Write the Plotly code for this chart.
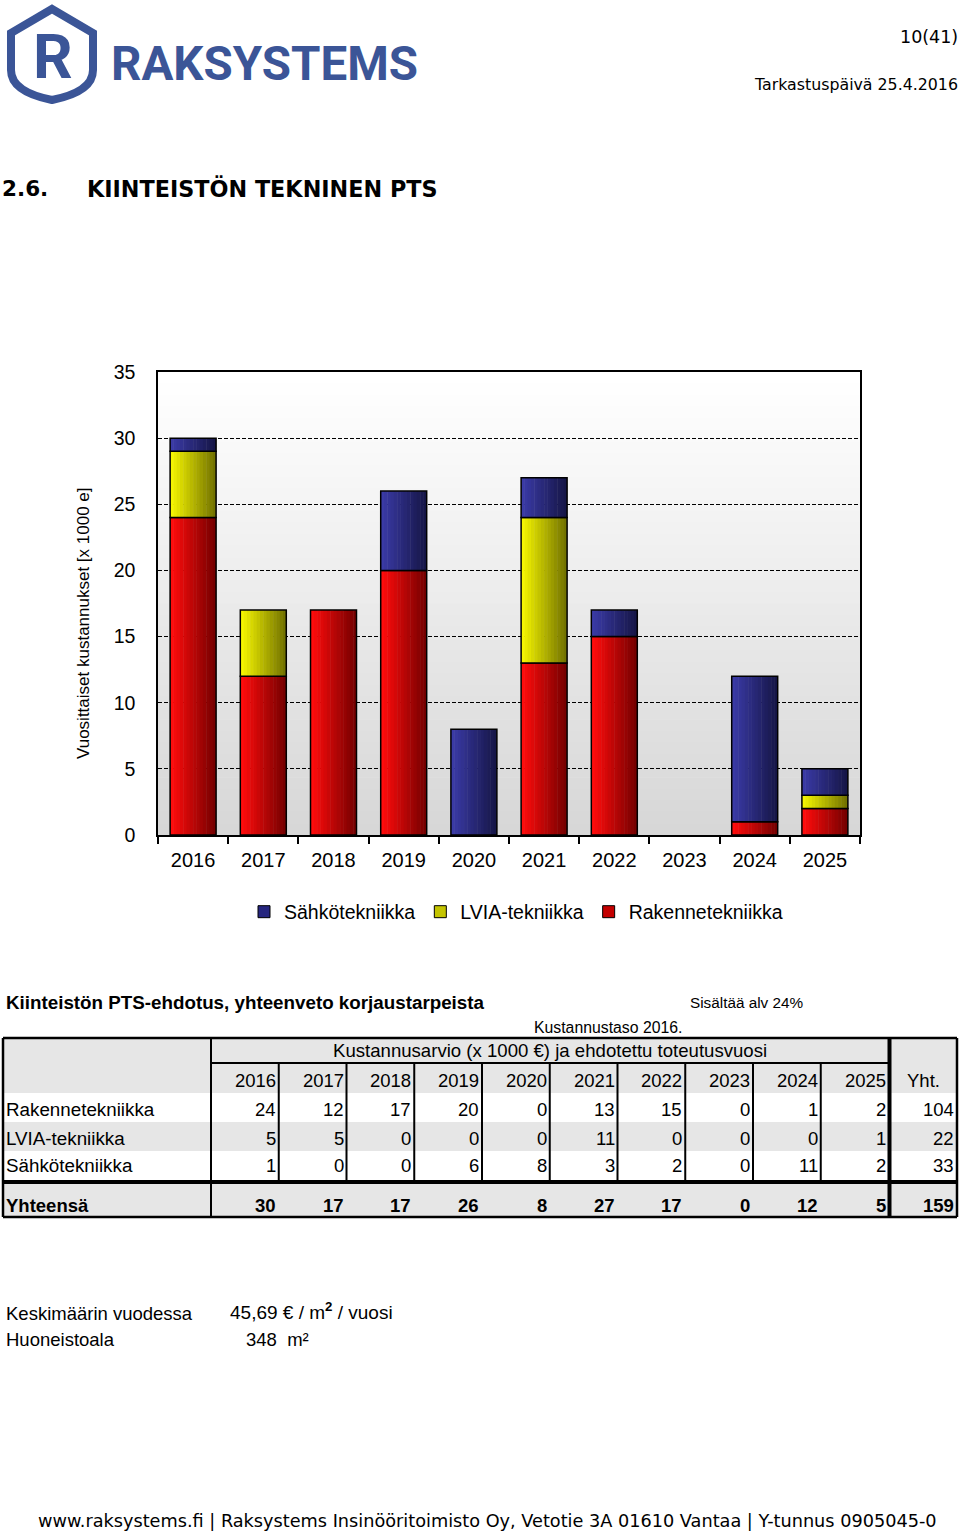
import plotly.graph_objects as go

# ---------------- data ----------------
years = ["2016", "2017", "2018", "2019", "2020", "2021", "2022", "2023", "2024", "2025"]
rakenne = [24, 12, 17, 20, 0, 13, 15, 0, 1, 2]
lvia = [5, 5, 0, 0, 0, 11, 0, 0, 0, 1]
sahko = [1, 0, 0, 6, 8, 3, 2, 0, 11, 2]
row_labels = ["Rakennetekniikka", "LVIA-tekniikka", "Sähkötekniikka"]
legend_names = ["Sähkötekniikka", "LVIA-tekniikka", "Rakennetekniikka"]
y_ticks = [0, 5, 10, 15, 20, 25, 30, 35]

W, H = 960, 1532
ARIAL = "Arial, Liberation Sans, sans-serif"
TAHOMA = "DejaVu Sans, Verdana, sans-serif"
BLUE_LOGO = "#3B5597"


def px(x):
    return x / W


def py(y):
    return 1 - y / H


fig = go.Figure()


def ann(text, x, y, size, xanchor="left", yanchor="middle", family=ARIAL,
        bold=False, color="black", textangle=0):
    fig.add_annotation(text=text, x=px(x), y=py(y), xref="paper", yref="paper",
                       xanchor=xanchor, yanchor=yanchor, showarrow=False,
                       textangle=textangle, borderpad=0,
                       font=dict(size=size, family=family, color=color,
                                 weight="bold" if bold else "normal"))


def rect(x0, y0, x1, y1, fill="rgba(0,0,0,0)", lw=0, lc="black", layer="below"):
    fig.add_shape(type="rect", xref="paper", yref="paper",
                  x0=px(x0), x1=px(x1), y0=py(y0), y1=py(y1),
                  fillcolor=fill, line=dict(width=lw, color=lc), layer=layer)


def hline(x0, x1, y, w=2):
    fig.add_shape(type="line", xref="paper", yref="paper",
                  x0=px(x0), x1=px(x1), y0=py(y), y1=py(y),
                  line=dict(width=w, color="black"), layer="above")


def vline(x, y0, y1, w=2):
    fig.add_shape(type="line", xref="paper", yref="paper",
                  x0=px(x), x1=px(x), y0=py(y0), y1=py(y1),
                  line=dict(width=w, color="black"), layer="above")


def lerp(c1, c2, t):
    return "#%02x%02x%02x" % tuple(round(a + (b - a) * t) for a, b in zip(c1, c2))


# ---------------- plot background gradient ----------------
PX0, PX1, PY0, PY1 = 158, 860, 372, 835
NS = 40
for i in range(NS):
    t = i / (NS - 1)
    ya = PY0 + (PY1 - PY0) * i / NS
    yb = PY0 + (PY1 - PY0) * (i + 1) / NS + 0.6
    g = round(255 - 40 * t)
    rect(PX0, ya, PX1, yb, fill="rgb(%d,%d,%d)" % (g, g, g))

# ---------------- bars ----------------
series = [
    (rakenne, ((255, 12, 12), (118, 0, 0))),
    (lvia, ((245, 245, 0), (115, 115, 0))),
    (sahko, ((58, 58, 165), (22, 22, 72))),
]
BW = 0.655
NSL = 14
base = [0] * len(years)
for vals, (c1, c2) in series:
    for k in range(NSL):
        t = k / (NSL - 1)
        wk = BW / NSL
        fig.add_bar(x=years, y=vals, base=list(base),
                    width=wk * (1.15 if k < NSL - 1 else 1.0),
                    offset=-BW / 2 + k * wk,
                    marker=dict(color=lerp(c1, c2, t), line=dict(width=0)),
                    showlegend=False, hoverinfo="skip")
    fig.add_bar(x=years, y=[v if v else None for v in vals], base=list(base),
                width=BW, offset=-BW / 2,
                marker=dict(color="rgba(0,0,0,0)", line=dict(color="black", width=1.5)),
                showlegend=False, hoverinfo="skip")
    base = [b + v for b, v in zip(base, vals)]

legend_colors = {"Sähkötekniikka": "#26267F", "LVIA-tekniikka": "#C4C400",
                 "Rakennetekniikka": "#C40000"}
for nm in legend_names:
    fig.add_bar(x=[None], y=[None], name=nm,
                marker=dict(color=legend_colors[nm], line=dict(color="black", width=1)))

fig.update_layout(
    width=W, height=H, autosize=False,
    margin=dict(l=0, r=0, t=0, b=0, pad=0, autoexpand=False),
    paper_bgcolor="white", plot_bgcolor="rgba(0,0,0,0)",
    barmode="overlay",
    showlegend=True,
    legend=dict(orientation="h", x=px(516), y=py(912), xanchor="center", yanchor="middle",
                font=dict(size=19.5, family=ARIAL, color="black"),
                bgcolor="rgba(0,0,0,0)", traceorder="normal", itemwidth=30),
    xaxis=dict(domain=[px(PX0), px(PX1)], type="category", automargin=False,
               showline=True, linecolor="black", linewidth=1.5, mirror=True,
               ticks="outside", tickson="boundaries", ticklen=7, tickcolor="black",
               tickwidth=1.5, showgrid=False,
               tickfont=dict(size=20, family=ARIAL, color="black"),
               ticklabelstandoff=6),
    yaxis=dict(domain=[py(PY1), py(PY0)], range=[0, 35], tickvals=y_ticks, automargin=False,
               showline=True, linecolor="black", linewidth=1.5, mirror=True,
               ticks="", showgrid=True, gridcolor="black", gridwidth=1,
               griddash="4px,2px", zeroline=False,
               tickfont=dict(size=19.5, family=ARIAL, color="black"),
               ticklabelstandoff=17),
)

ann("Vuosittaiset kustannukset [x 1000 e]", 83, 623, 17, xanchor="center",
    textangle=-90)

# ---------------- header ----------------
fig.add_shape(type="path", xref="paper", yref="paper",
              path="M %f,%f L %f,%f L %f,%f C %f,%f %f,%f %f,%f C %f,%f %f,%f %f,%f L %f,%f Z" % (
                  px(52), py(9), px(93), py(33), px(93), py(70),
                  px(93), py(88), px(72), py(96), px(52), py(100),
                  px(32), py(96), px(11), py(88), px(11), py(70),
                  px(11), py(33)),
              line=dict(color=BLUE_LOGO, width=8), fillcolor="rgba(0,0,0,0)", layer="above")
ann("R", 53, 57, 62, xanchor="center", family="Roboto, sans-serif", bold=True,
    color=BLUE_LOGO)
ann("RAKSYSTEMS", 110, 64, 47.5, family="Roboto, sans-serif", bold=True, color=BLUE_LOGO)
ann("10(41)", 959, 37, 17.5, xanchor="right", family=TAHOMA)
ann("Tarkastuspäivä 25.4.2016", 959, 84, 15.8, xanchor="right", family=TAHOMA)
ann("2.6.", 1, 188, 21.5, family=TAHOMA, bold=True)
ann("KIINTEISTÖN TEKNINEN PTS", 86, 188, 22.3, family=TAHOMA, bold=True)

# ---------------- table ----------------
ann("Kiinteistön PTS-ehdotus, yhteenveto korjaustarpeista", 5, 1002, 18.8, bold=True)
ann("Sisältää alv 24%", 689, 1002, 15.3)
ann("Kustannustaso 2016.", 533, 1027, 15.8)

TL, TR = 3, 957
LC = 211
YC = 888.5
col_w = (YC - LC) / len(years)
T0, H1, H2 = 1038, 1063, 1093
row_b = [1122, 1151, 1180]
THK = 1182
TB = 1217
GRAY = "#E6E6E6"

rect(TL, T0, TR, H2, fill=GRAY)
rect(TL, row_b[0], TR, row_b[1], fill=GRAY)
rect(TL, THK, TR, TB, fill=GRAY)

hline(TL, TR, T0, 2.5)
hline(TL, TR, TB, 2.5)
vline(TL, T0, TB, 2.5)
vline(TR, T0, TB, 2.5)
vline(LC, T0, TB, 2)
vline(YC + 1, T0, TB, 4)
hline(LC, YC, H1, 2)
hline(TL, TR, THK, 4)
for i in range(1, len(years)):
    vline(LC + i * col_w, H1, row_b[-1], 2)

ann("Kustannusarvio (x 1000 €) ja ehdotettu toteutusvuosi", (LC + YC) / 2, 1050, 18.6,
    xanchor="center")
for i, yr in enumerate(years):
    ann(yr, LC + (i + 1) * col_w - 2, 1080, 18.5, xanchor="right")
ann("Yht.", 923, 1080, 18.5, xanchor="center")

rows = [rakenne, lvia, sahko]
row_cy = [1109, 1138, 1165]
for lab, vals, cy in zip(row_labels, rows, row_cy):
    ann(lab, 5, cy, 18.8)
    for i, v in enumerate(vals):
        ann(str(v), LC + (i + 1) * col_w - 2, cy, 18.5, xanchor="right")
    ann(str(sum(vals)), 955, cy, 18.5, xanchor="right")

totals = [a + b + c for a, b, c in zip(rakenne, lvia, sahko)]
ann("Yhteensä", 5, 1205, 18.5, bold=True)
for i, v in enumerate(totals):
    ann(str(v), LC + (i + 1) * col_w - 2, 1205, 18.5, xanchor="right", bold=True)
ann(str(sum(totals)), 955, 1205, 18.5, xanchor="right", bold=True)

# ---------------- notes ----------------
ann("Keskimäärin vuodessa", 5, 1313, 18.5)
ann("45,69 € / m<sup><b>2</b></sup> / vuosi", 229, 1311, 19)
ann("Huoneistoala", 5, 1339, 18.5)
ann("348  m²", 245, 1339, 18.5)

ann("www.raksystems.fi | Raksystems Insinööritoimisto Oy, Vetotie 3A 01610 Vantaa | Y-tunnus 0905045-0",
    487, 1521, 17.7, xanchor="center", family=TAHOMA)

fig.write_html("out.html", config={"displayModeBar": False},
               post_script="document.body.style.margin='0';")
